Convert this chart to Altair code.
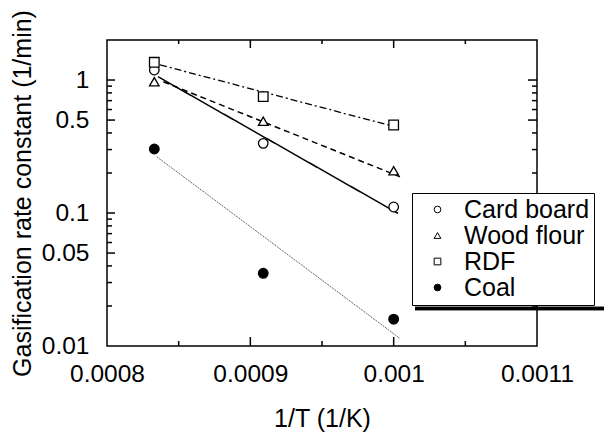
import altair as alt
import pandas as pd

FONT = "Liberation Sans"

series = ["Card board", "Wood flour", "RDF", "Coal"]
shapes = ["circle", "triangle-up", "square", "circle"]
fills = ["white", "white", "white", "black"]
strokes = ["black", "black", "black", "black"]

inv_T = [0.000833, 0.000909, 0.001]
card_board = [1.19, 0.334, 0.111]
wood_flour = [0.97, 0.49, 0.208]
rdf = [1.36, 0.75, 0.459]
coal = [0.303, 0.0352, 0.0159]

# fitted lines (end points)
card_fit_x = [0.0008356, 0.001003]
card_fit_y = [1.06, 0.0995]
wood_fit_x = [0.0008393, 0.0010044]
wood_fit_y = [0.97, 0.1875]
rdf_fit_x = [0.000837, 0.001001]
rdf_fit_y = [1.30, 0.445]
coal_fit_x = [0.0008347, 0.0010044]
coal_fit_y = [0.265, 0.0114]

x_labels = [0.0008, 0.0009, 0.001, 0.0011]
x_major = [0.0009, 0.001]
x_minor = [0.00085, 0.00095, 0.00105]
y_labels = [0.01, 0.05, 0.1, 0.5, 1]
y_major = [0.05, 0.1, 0.5, 1]
y_minor = [0.02, 0.03, 0.04, 0.06, 0.07, 0.08, 0.09,
           0.2, 0.3, 0.4, 0.6, 0.7, 0.8, 0.9]

rows = []
for name, vals in zip(series, [card_board, wood_flour, rdf, coal]):
    for xv, yv in zip(inv_T, vals):
        rows.append({"series": name, "x": xv, "y": yv})
pts_df = pd.DataFrame(rows)

W, H = 430, 306

xscale = alt.Scale(domain=[0.0008, 0.0011], nice=False, zero=False)
yscale = alt.Scale(type="log", domain=[0.01, 2], nice=False)
xaxis = alt.Axis(values=x_labels, format=".4~f", title="1/T (1/K)", ticks=False,
                 domain=False, grid=False, labelFlush=False, labelOverlap=False,
                 labelPadding=16, titlePadding=21)
yaxis = alt.Axis(values=y_labels, format="~g", title="Gasification rate constant (1/min)",
                 ticks=False, domain=False, grid=False, labelFlush=False,
                 labelOverlap=False, labelPadding=18, titlePadding=6)


def X(field="x"):
    return alt.X(f"{field}:Q", scale=xscale, axis=xaxis)


def Y(field="y"):
    return alt.Y(f"{field}:Q", scale=yscale, axis=yaxis)


legend = alt.Legend(
    title=None, orient="none", legendX=305, legendY=153,
    strokeColor="black", fillColor="white", padding=4,
    symbolOffset=9, labelOffset=14, labelFont=FONT, labelFontSize=25,
    labelColor="black", symbolSize=45, rowPadding=0,
    symbolStrokeWidth=1, labelLimit=400,
    labelExpr="datum.label + '              '",
)

line_styles = [
    dict(strokeDash=[1, 0], color="black", strokeWidth=1.5),
    dict(strokeDash=[6, 4], color="black", strokeWidth=1.5),
    dict(strokeDash=[7, 3, 2, 3], color="black", strokeWidth=1.3),
    dict(strokeDash=[2, 1], color="#666666", strokeWidth=1.0),
]
line_layers = []
for fx, fy, st in zip([card_fit_x, wood_fit_x, rdf_fit_x, coal_fit_x],
                      [card_fit_y, wood_fit_y, rdf_fit_y, coal_fit_y], line_styles):
    df = pd.DataFrame({"x": fx, "y": fy})
    line_layers.append(alt.Chart(df).mark_line(**st).encode(x=X(), y=Y()))

points = alt.Chart(pts_df).mark_point(filled=True, opacity=1, size=92).encode(
    x=X(), y=Y(),
    shape=alt.Shape("series:N", scale=alt.Scale(domain=series, range=shapes), legend=legend),
    fill=alt.Fill("series:N", scale=alt.Scale(domain=series, range=fills), legend=legend),
    stroke=alt.Stroke("series:N", scale=alt.Scale(domain=series, range=strokes), legend=legend),
    strokeWidth=alt.value(1.3),
)

xmaj_df = pd.DataFrame({"x": x_major})
xmin_df = pd.DataFrame({"x": x_minor})
ymaj_df = pd.DataFrame({"y": y_major})
ymin_df = pd.DataFrame({"y": y_minor})

tick = dict(color="black", strokeWidth=1.5)
t1 = alt.Chart(xmaj_df).mark_rule(**tick).encode(x=X(), y=alt.value(H), y2=alt.value(H - 9))
t2 = alt.Chart(xmaj_df).mark_rule(**tick).encode(x=X(), y=alt.value(0), y2=alt.value(8))
t3 = alt.Chart(xmin_df).mark_rule(**tick).encode(x=X(), y=alt.value(H), y2=alt.value(H - 5))
t4 = alt.Chart(xmin_df).mark_rule(**tick).encode(x=X(), y=alt.value(0), y2=alt.value(4))
t5 = alt.Chart(ymaj_df).mark_rule(**tick).encode(y=Y(), x=alt.value(0), x2=alt.value(8))
t6 = alt.Chart(ymaj_df).mark_rule(**tick).encode(y=Y(), x=alt.value(W), x2=alt.value(W - 9))
t7 = alt.Chart(ymin_df).mark_rule(**tick).encode(y=Y(), x=alt.value(0), x2=alt.value(5))
t8 = alt.Chart(ymin_df).mark_rule(**tick).encode(y=Y(), x=alt.value(W), x2=alt.value(W - 5))

shadow = alt.Chart(xmaj_df).mark_rule(color="black", strokeWidth=3.5).encode(
    x=alt.value(308), x2=alt.value(520), y=alt.value(268.5))

chart = alt.layer(t1, t2, t3, t4, t5, t6, t7, t8, *line_layers, shadow, points).properties(
    width=W, height=H,
    autosize=alt.AutoSizeParams(type="none"),
    padding={"left": 107, "top": 40, "right": 67, "bottom": 89},
).configure_view(
    stroke="black", strokeWidth=1.5
).configure_axis(
    labelFont=FONT, labelFontSize=24.5, labelColor="black",
    titleFont=FONT, titleFontSize=25, titleFontWeight="normal", titleColor="black",
)

chart.save("out.html", embed_options={"renderer": "svg", "actions": False})
